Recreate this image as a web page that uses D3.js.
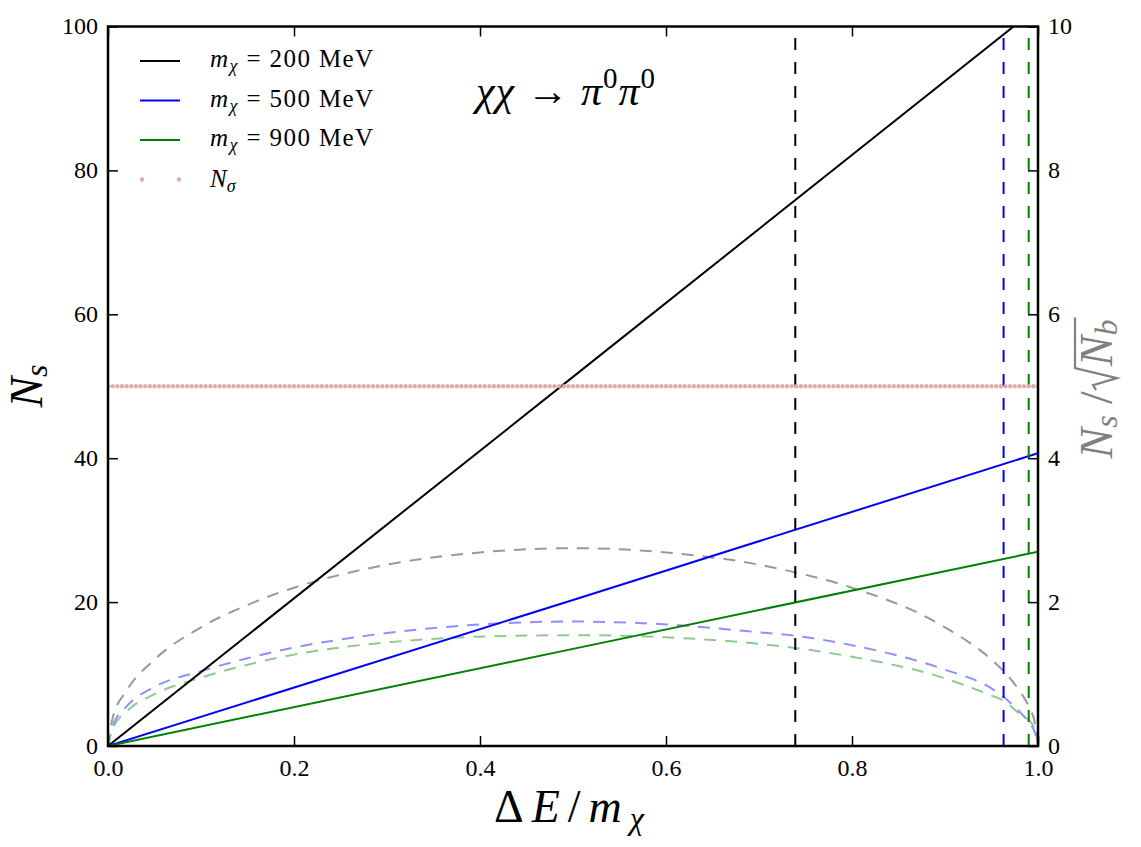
<!DOCTYPE html>
<html>
<head>
<meta charset="utf-8">
<script src="https://cdn.jsdelivr.net/npm/d3@7/dist/d3.min.js"></script>
<style>
  body { margin: 0; background: #fff; }
  text { font-family: "Liberation Serif", "DejaVu Serif", serif; }
</style>
</head>
<body>
<div id="chart"></div>
<script>
// ---- data ----
const xTicks = [0.0, 0.2, 0.4, 0.6, 0.8, 1.0]
const yTicksLeft = [0, 20, 40, 60, 80, 100]
const yTicksRight = [0, 2, 4, 6, 8, 10]
const massLabels = ["200", "500", "900"]
const lineColors = ["black", "blue", "green"]
const dashColors = ["#999999", "#8f8fff", "#8fc98f"]

// N_s (left axis) vs dE/m, straight lines
const signalX = [0, 0.5, 1.0]
const signal200 = [0, 51.3, 102.7]
const signal500 = [0, 20.3, 40.7]
const signal900 = [0, 13.5, 27.0]

// N_s/sqrt(N_b) (right axis), dashed curves
const ratioX = [0, 0.005, 0.02, 0.05, 0.1, 0.15, 0.2, 0.25, 0.3, 0.4, 0.5, 0.6, 0.7, 0.74, 0.8, 0.9, 0.95, 0.963, 0.98, 0.99, 0.997, 1.0]
const ratio200 = [0, 0.39, 0.77, 1.20, 1.65, 1.96, 2.20, 2.38, 2.52, 2.69, 2.75, 2.69, 2.52, 2.41, 2.20, 1.65, 1.20, 1.04, 0.77, 0.55, 0.30, 0]
const ratio500 = [0, 0.28, 0.55, 0.82, 1.04, 1.22, 1.37, 1.48, 1.57, 1.69, 1.73, 1.69, 1.58, 1.53, 1.40, 1.06, 0.80, 0.68, 0.48, 0.33, 0.18, 0.05]
const ratio900 = [0, 0.24, 0.48, 0.72, 0.95, 1.13, 1.27, 1.37, 1.44, 1.52, 1.54, 1.51, 1.42, 1.36, 1.24, 0.94, 0.70, 0.63, 0.45, 0.36, 0.24, 0.15]

// cut positions (vertical dashed lines)
const cutX = [0.739, 0.963, 0.990]
// N_sigma level (right axis)
const nSigma = 5

// ---- layout ----
const W = 1141, H = 847
const margin = { top: 26.5, right: 103, bottom: 101, left: 108 }
const width = W - margin.left - margin.right,
  height = H - margin.top - margin.bottom

const svg = d3.select("#chart")
  .append("svg")
  .attr("width", W)
  .attr("height", H)

const g = svg.append("g")
  .attr("transform", `translate(${margin.left},${margin.top})`)

const x = d3.scaleLinear().domain([0, 1]).range([0, width])
const y = d3.scaleLinear().domain([0, 100]).range([height, 0])
const y2 = d3.scaleLinear().domain([0, 10]).range([height, 0])

g.append("clipPath").attr("id", "clip")
  .append("rect").attr("width", width).attr("height", height)

const plot = g.append("g").attr("clip-path", "url(#clip)")

// dashed ratio curves
const ratioSeries = [ratio200, ratio500, ratio900]
ratioSeries.forEach((vals, i) => {
  plot.append("path")
    .datum(ratioX.map((d, j) => ({ x: d, v: vals[j] })))
    .attr("fill", "none")
    .attr("stroke", dashColors[i])
    .attr("stroke-width", 2)
    .attr("stroke-dasharray", "12,9")
    .attr("d", d3.line()
      .curve(d3.curveMonotoneX)
      .x(function(d) { return x(d.x) })
      .y(function(d) { return y2(d.v) })
    )
})

// signal lines
const signalSeries = [signal200, signal500, signal900]
signalSeries.forEach((vals, i) => {
  plot.append("path")
    .datum(signalX.map((d, j) => ({ x: d, v: vals[j] })))
    .attr("fill", "none")
    .attr("stroke", lineColors[i])
    .attr("stroke-width", 2)
    .attr("d", d3.line()
      .x(function(d) { return x(d.x) })
      .y(function(d) { return y(d.v) })
    )
})

// vertical cut lines
cutX.forEach((c, i) => {
  plot.append("line")
    .attr("x1", x(c)).attr("x2", x(c))
    .attr("y1", y(0)).attr("y2", y(100))
    .attr("stroke", lineColors[i])
    .attr("stroke-width", 2)
    .attr("stroke-dasharray", "12,12")
})

// N_sigma dotted markers
const markerX = d3.range(0, 1.0001, 0.005)
plot.selectAll(".nsig")
  .data(markerX)
  .join("circle")
  .attr("cx", d => x(d))
  .attr("cy", y2(nSigma))
  .attr("r", 1.9)
  .attr("fill", "#eaa9a9")
  .attr("stroke", "#c9a3a3")
  .attr("stroke-width", 0.5)

// ---- axes ----
const fmt = d3.format(".1f")
const axB = g.append("g")
  .attr("transform", `translate(0,${height})`)
  .call(d3.axisBottom(x).tickValues(xTicks).tickSize(-10).tickPadding(13).tickFormat(fmt))
const axT = g.append("g")
  .call(d3.axisTop(x).tickValues(xTicks).tickSize(-10).tickFormat(""))
const axL = g.append("g")
  .call(d3.axisLeft(y).tickValues(yTicksLeft).tickSize(-10).tickPadding(10))
const axR = g.append("g")
  .attr("transform", `translate(${width},0)`)
  .call(d3.axisRight(y2).tickValues(yTicksRight).tickSize(-10).tickPadding(10))

;[axB, axT, axL, axR].forEach(a => {
  a.attr("font-family", null)
  a.select(".domain").remove()
  a.selectAll(".tick line").attr("stroke", "black").attr("stroke-width", 1.5)
  a.selectAll(".tick text")
    .attr("fill", "black")
    .style("font-family", '"Liberation Serif", serif')
    .style("font-size", "24px")
})
axL.selectAll(".tick text").attr("dy", "0.3em")
axR.selectAll(".tick text").attr("dy", "0.3em")

// frame
g.append("rect")
  .attr("width", width).attr("height", height)
  .attr("fill", "none")
  .attr("stroke", "black")
  .attr("stroke-width", 2.5)

// ---- legend ----
const legend = g.append("g")
const legY = [34.5, 74, 113.5, 153]
massLabels.forEach((m, i) => {
  legend.append("line")
    .attr("x1", 32).attr("x2", 72)
    .attr("y1", legY[i]).attr("y2", legY[i])
    .attr("stroke", lineColors[i]).attr("stroke-width", 2)
  const t = legend.append("text")
    .attr("x", 102).attr("y", legY[i] + 6)
    .style("font-size", "25px")
    .attr("letter-spacing", 1.4)
  t.append("tspan").attr("font-style", "italic").text("m")
  t.append("tspan").attr("font-style", "italic").style("font-size", "18px").attr("dy", 5).text("χ")
  t.append("tspan").attr("dy", -5).text(" = " + m + " MeV")
})
;[34, 71].forEach(px => {
  legend.append("circle")
    .attr("cx", px).attr("cy", legY[3]).attr("r", 1.9)
    .attr("fill", "#eaa9a9").attr("stroke", "#c9a3a3").attr("stroke-width", 0.5)
})
const tn = legend.append("text").attr("x", 102).attr("y", legY[3] + 7).style("font-size", "25px")
tn.append("tspan").attr("font-style", "italic").text("N")
tn.append("tspan").attr("font-style", "italic").style("font-size", "18px").attr("dy", 5).text("σ")

// ---- title ----
const title = svg.append("text")
  .attr("x", 476).attr("y", 105)
  .style("font-size", "42px")
  .attr("letter-spacing", 1)
title.append("tspan").attr("font-style", "italic").text("χχ")
title.append("tspan").text(" → ")
title.append("tspan").attr("font-style", "italic").text("π")
title.append("tspan").style("font-size", "29px").attr("dy", -17).text("0")
title.append("tspan").attr("font-style", "italic").attr("dy", 17).text("π")
title.append("tspan").style("font-size", "29px").attr("dy", -17).text("0")

// ---- axis labels ----
const xl = svg.append("text")
  .attr("x", 573).attr("y", 822)
  .attr("text-anchor", "middle")
  .attr("letter-spacing", 8)
  .style("font-size", "46px")
xl.append("tspan").text("Δ")
xl.append("tspan").attr("font-style", "italic").text("E")
xl.append("tspan").text("/")
xl.append("tspan").attr("font-style", "italic").text("m")
xl.append("tspan").attr("font-style", "italic").style("font-size", "32px").attr("dy", 7).text("χ")

const yl = svg.append("text")
  .attr("transform", "translate(42,386) rotate(-90)")
  .attr("text-anchor", "middle")
  .style("font-size", "46px")
yl.append("tspan").attr("font-style", "italic").text("N")
yl.append("tspan").attr("font-style", "italic").style("font-size", "32px").attr("dy", 5).text("s")

// right label: N_s / sqrt(N_b)
const rg = svg.append("g").attr("transform", "translate(1112,388) rotate(-90)")
const r1 = rg.append("text").attr("fill", "#808080").style("font-size", "46px")
r1.append("tspan").attr("font-style", "italic").text("N")
r1.append("tspan").attr("font-style", "italic").style("font-size", "32px").attr("dy", 5).text("s")
r1.append("tspan").attr("dy", -5).text(" / ")
const w1 = r1.node().getComputedTextLength()
const rad = w1 + 1
const r2 = rg.append("text").attr("fill", "#808080").attr("x", rad + 24).style("font-size", "46px")
r2.append("tspan").attr("font-style", "italic").text("N")
r2.append("tspan").attr("font-style", "italic").style("font-size", "32px").attr("dy", 5).text("b")
const w2 = r2.node().getComputedTextLength()
rg.append("path")
  .attr("fill", "none").attr("stroke", "#808080").attr("stroke-width", 2.2)
  .attr("d", `M${rad},-16 L${rad + 5},-19 L${rad + 12},5 L${rad + 22},-37 L${rad + 26 + w2},-37`)
const total = rad + 26 + w2
rg.selectAll("text,path").attr("transform", `translate(${-total / 2},0)`)
</script>
</body>
</html>
